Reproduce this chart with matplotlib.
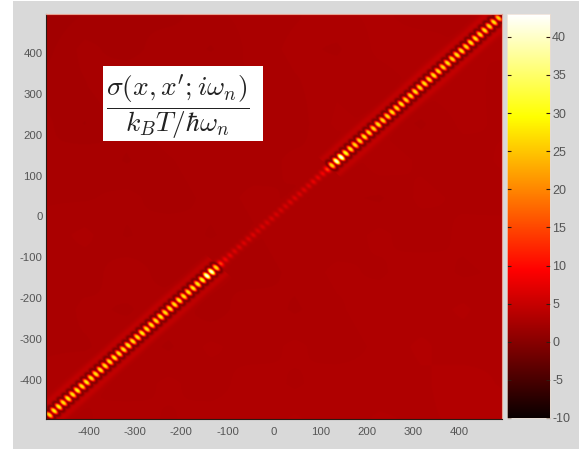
import numpy as np
import matplotlib
matplotlib.use("Agg")
import matplotlib.pyplot as plt
from matplotlib.patches import Rectangle

W, H = 579, 449
UPPER_POS = [125, 135, 145, 155, 165, 175, 185, 195, 205, 215, 225, 235, 245, 255, 265, 275, 285, 295, 305,
             315, 325, 335, 345, 355, 365, 375, 385, 395, 405, 415, 425, 435, 445, 455, 465, 475, 485]
UPPER_VAL = [24, 38, 41, 28, 25, 24, 24, 25, 24, 24, 25, 24, 24, 25, 24, 25, 24, 24, 25,
             24, 25, 24, 25, 24, 24, 25, 24, 25, 25, 24, 25, 25, 24, 25, 24, 25, 23]
LOWER_POS = [-485, -475, -465, -455, -445, -435, -425, -415, -405, -395, -385, -375, -365, -355, -345, -335,
             -325, -315, -305, -295, -285, -275, -265, -255, -245, -235, -225, -215, -205, -195, -185, -175,
             -165, -155, -145, -135, -125]
LOWER_VAL = [24, 26, 26, 25, 26, 25, 26, 25, 26, 25, 25, 26, 25, 25, 26, 25,
             25, 26, 25, 25, 26, 25, 25, 25, 26, 25, 25, 25, 26, 25, 25, 26,
             26, 28, 40, 39, 24]
MID_POS = [-115, -105, -95, -85, -75, -65, -55, -45, -35, -25, -15, -5, 5, 15, 25, 35, 45, 55, 65, 75, 85, 95, 105, 115]
MID_VAL = [15, 9, 8, 7, 7, 7, 7, 7, 6.5, 6.5, 6.5, 6.5, 6.5, 6.5, 6.5, 7, 7, 7, 7, 7, 8, 8, 9, 15]
# coarse background level, top row first
BACKGROUND = [
    [2.0, 2.2, 2.4, 2.3, 2.6, 2.7, 2.8, 3.0, 3.1, 2.9, 3.0, 3.2],
    [2.1, 2.5, 2.3, 2.6, 2.4, 2.7, 2.9, 2.8, 3.1, 3.2, 3.0, 3.1],
    [2.3, 2.4, 2.7, 2.5, 2.7, 2.6, 2.8, 3.0, 2.9, 3.1, 3.2, 2.9],
    [2.5, 2.2, 2.5, 2.8, 2.6, 2.8, 2.7, 3.1, 3.0, 2.8, 3.1, 3.0],
    [2.4, 2.6, 2.4, 2.6, 2.8, 2.7, 2.9, 2.8, 3.2, 3.0, 2.9, 3.1],
    [2.6, 2.6, 2.7, 2.5, 2.7, 2.9, 2.8, 2.9, 2.8, 3.1, 3.0, 2.9],
    [2.7, 2.9, 2.6, 2.8, 2.6, 2.8, 3.0, 2.9, 3.1, 2.9, 3.1, 3.2],
    [2.8, 2.7, 3.0, 2.7, 2.9, 2.7, 2.9, 3.1, 3.0, 3.2, 3.0, 3.1],
    [2.6, 2.9, 2.8, 3.0, 2.7, 3.0, 2.8, 3.0, 3.2, 3.1, 3.3, 3.0],
    [2.8, 2.8, 3.0, 2.8, 3.1, 2.9, 3.1, 2.9, 3.1, 3.3, 3.1, 3.2],
    [2.9, 3.1, 2.9, 3.1, 2.9, 3.2, 3.0, 3.2, 3.1, 3.2, 3.4, 3.2],
    [3.1, 3.0, 3.2, 3.0, 3.2, 3.1, 3.3, 3.1, 3.3, 3.2, 3.3, 3.5],
]
X_TICKS = [-400, -300, -200, -100, 0, 100, 200, 300, 400]
Y_TICKS = [-400, -300, -200, -100, 0, 100, 200, 300, 400]
CBAR_TICKS = [-10, -5, 0, 5, 10, 15, 20, 25, 30, 35, 40]
VMIN, VMAX = -10, 43
XLIM, YLIM = 492.5, 495
FORMULA = r"$\dfrac{\sigma(x,x';i\omega_n)}{k_BT/\hbar\omega_n}$"

# assemble the field
axis = np.arange(-500, 501, 1.0)
X, Y = np.meshgrid(axis, axis)
U = (X + Y) / 2
V = (X - Y) / 2
bg = np.array(BACKGROUND)[::-1]
gx = np.linspace(-500, 500, bg.shape[1])
gy = np.linspace(-500, 500, bg.shape[0])
fine = np.array([np.interp(axis, gx, row) for row in bg])
field = np.array([np.interp(axis, gy, col) for col in fine.T]).T
band = np.abs(V) < 40
halo = np.zeros_like(field)
for p, a in zip(UPPER_POS + LOWER_POS, UPPER_VAL + LOWER_VAL):
    r2 = ((U[band] - p) / 3.9) ** 2 + (V[band] / 7.5) ** 2
    field[band] += (a + 13) * np.exp(-(r2 ** 1.5))
    halo[band] = np.maximum(halo[band], np.exp(-(r2 / 2.3) ** 2))
field -= 13 * halo
for p, a in zip(MID_POS, MID_VAL):
    r2 = ((U[band] - p) / 3.4) ** 2 + (V[band] / 5.5) ** 2
    field[band] += (a - 3) * np.exp(-r2)
reach = (np.abs(U) > 120) & (np.abs(U) < 495)
field[reach] += 1.5 * np.exp(-((np.abs(V[reach]) - 17) / 6.0) ** 2)

plt.rcParams["font.family"] = ["Liberation Sans", "DejaVu Sans"]
plt.rcParams["mathtext.fontset"] = "cm"
plt.rcParams["axes.unicode_minus"] = False
fig = plt.figure(figsize=(W / 100, H / 100), dpi=100, facecolor="white")
fig.add_artist(Rectangle((13 / W, 0), 1 - 13 / W, 1 - 1 / H, transform=fig.transFigure,
                         facecolor="#d9d9d9", edgecolor="none", zorder=-10))


def box(l, t, r, b):
    return [l / W, 1 - b / H, (r - l) / W, (b - t) / H]


ax = fig.add_axes(box(46, 14, 502, 419))
ax.imshow(field, cmap="hot", vmin=VMIN, vmax=VMAX, origin="lower",
          extent=[-500.5, 500.5, -500.5, 500.5], aspect="auto", interpolation="bilinear")
ax.set_xlim(-XLIM, XLIM)
ax.set_ylim(-YLIM, YLIM)
ax.set_xticks(X_TICKS)
ax.set_yticks(Y_TICKS)
ax.tick_params(labelsize=8.2, labelcolor="#555555", length=0)
ax.tick_params(axis="y", pad=2.5)
ax.tick_params(axis="x", pad=6)
for side, sp in ax.spines.items():
    sp.set_linewidth(0.8)
    sp.set_color("#2a1a14" if side in ("left", "bottom") else "#e8a090")

ax.add_patch(Rectangle((103 / W, 1 - 141 / H), 160 / W, 75 / H, transform=fig.transFigure,
                       facecolor="white", edgecolor="none", zorder=3))
fig.text(177.5 / W, 1 - 107 / H, FORMULA, fontsize=19.8, color="#222222", ha="center", va="center", zorder=5)

cax = fig.add_axes(box(507, 14, 550, 418))
grad = np.linspace(VMIN, VMAX, 256)[:, None]
cax.imshow(grad, cmap="hot", vmin=VMIN, vmax=VMAX, origin="lower", aspect="auto",
           extent=[0, 1, VMIN, VMAX])
cax.set_xticks([])
cax.yaxis.tick_right()
cax.set_yticks(CBAR_TICKS)
cax.tick_params(axis="y", which="both", right=True, left=True, direction="in", length=3,
                width=0.8, color="#331a10", labelsize=9, labelcolor="#555555", pad=1.5)
for sp in cax.spines.values():
    sp.set_linewidth(0.5)
    sp.set_color("#ecdcd0")

fig.savefig("out.png", dpi=100, facecolor="white")
